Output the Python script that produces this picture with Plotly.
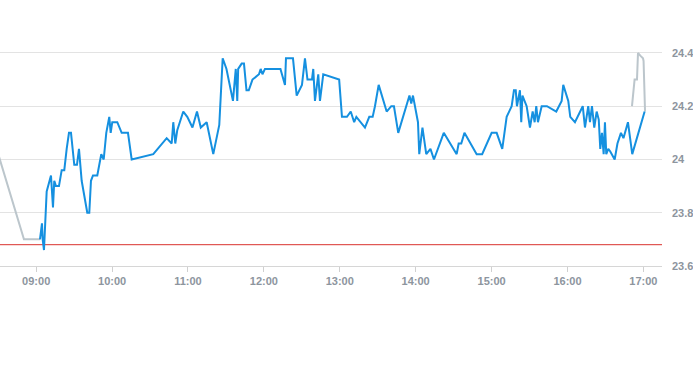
import plotly.graph_objects as go

DAY = "2024-01-02"

blue_times = ["09:03:00","09:04:35","09:05:08","09:06:10","09:08:18","09:10:22","09:11:42","09:13:17","09:14:18","09:15:39",
"09:18:01","09:20:10","09:22:13","09:24:07","09:25:56","09:27:31","09:28:51","09:30:07","09:32:15","09:33:50",
"09:35:58","09:40:24","09:41:59","09:43:19","09:44:54","09:48:18","09:49:53","09:51:28","09:53:22","09:55:25",
"09:57:47","09:58:54","10:00:09","10:04:07","10:07:35","10:12:34","10:15:30","10:32:34","10:43:10","10:47:07",
"10:48:23","10:49:58","10:51:32","10:56:17","10:59:27","11:03:33","11:07:07","11:10:07","11:14:47","11:20:00",
"11:24:45","11:27:26","11:30:26","11:35:34","11:37:47","11:38:58","11:39:41","11:42:27","11:44:16","11:46:15",
"11:48:04","11:50:59","11:56:08","11:57:28","11:58:53","12:00:52","12:13:07","12:16:41","12:17:28","12:23:00",
"12:25:56","12:30:07","12:32:29","12:34:28","12:38:01","12:39:03","12:40:23","12:43:00","12:44:21","12:46:57",
"12:59:31","13:01:44","13:05:41","13:08:41","13:11:23","13:13:07","13:19:55","13:23:19","13:26:00","13:27:49",
"13:30:45","13:37:04","13:40:42","13:42:50","13:46:14","13:55:05","13:56:31","13:57:52","14:01:49","14:02:50",
"14:05:22","14:08:22","14:11:41","14:14:28","14:22:13","14:32:25","14:33:59","14:36:03","14:38:34","14:48:13",
"14:52:34","15:00:04","15:04:02","15:08:27","15:11:56","15:15:53","15:17:42","15:19:07","15:20:04","15:22:26",
"15:23:28","15:24:25","15:27:44","15:30:21","15:32:29","15:34:04","15:35:20","15:36:40","15:39:36","15:43:47",
"15:51:08","15:55:25","15:56:40","16:00:38","16:02:13","16:05:55","16:12:05","16:13:50","16:16:26","16:17:47",
"16:19:22","16:21:11","16:23:05","16:24:44","16:25:56","16:27:16","16:28:37","16:29:38","16:30:40","16:32:15",
"16:33:50","16:37:19","16:39:31","16:42:17","16:44:16","16:47:49","16:51:13","17:01:00"]

blue_prices = [23.70,23.76,23.70,23.66,23.88,23.92,23.94,23.82,23.92,23.90,
23.90,23.96,23.96,24.04,24.10,24.10,24.04,23.98,23.98,24.04,
23.92,23.80,23.80,23.92,23.94,23.94,23.98,24.02,24.00,24.10,
24.16,24.10,24.14,24.14,24.10,24.10,24.00,24.02,24.08,24.06,
24.14,24.06,24.11,24.18,24.16,24.12,24.18,24.12,24.14,24.02,
24.13,24.38,24.34,24.22,24.34,24.22,24.34,24.36,24.36,24.26,
24.26,24.30,24.32,24.34,24.32,24.34,24.34,24.28,24.38,24.38,
24.24,24.28,24.38,24.30,24.30,24.34,24.22,24.32,24.22,24.32,
24.30,24.16,24.16,24.18,24.14,24.16,24.12,24.16,24.16,24.20,
24.28,24.18,24.20,24.20,24.10,24.24,24.21,24.24,24.14,24.02,
24.12,24.02,24.04,24.00,24.10,24.02,24.06,24.06,24.10,24.02,
24.02,24.10,24.10,24.04,24.16,24.20,24.26,24.26,24.20,24.26,
24.14,24.24,24.20,24.12,24.18,24.14,24.20,24.14,24.20,24.20,
24.18,24.22,24.28,24.22,24.16,24.14,24.20,24.12,24.20,24.14,
24.20,24.12,24.18,24.15,24.04,24.10,24.02,24.14,24.02,24.04,
24.03,24.00,24.06,24.10,24.08,24.14,24.02,24.18]

pre_times = ["08:30:00", "08:50:20", "09:03:00"]
pre_prices = [24.02, 23.70, 23.70]

post_times = ["16:51:00", "16:53:04", "16:54:58", "16:55:45", "16:57:34", "16:59:42", "17:00:10", "17:01:20"]
post_prices = [24.20, 24.30, 24.30, 24.40, 24.39, 24.38, 24.37, 24.18]

prev_close = 23.68

x_range = ["08:31:24", "17:14:44"]
y_ticks = [23.6, 23.8, 24.0, 24.2, 24.4]


def ts(lst):
    return [f"{DAY} {t}" for t in lst]


BLUE = "#1590e0"
GRAY = "#bcc6cc"
LABEL = "#8d959e"
TICKFONT = dict(family="Liberation Sans, Arial, sans-serif", size=11, color=LABEL, weight="bold")

fig = go.Figure()
fig.add_trace(go.Scatter(x=ts(pre_times), y=pre_prices, mode="lines",
                         line=dict(color=GRAY, width=2), hoverinfo="skip"))
fig.add_trace(go.Scatter(x=ts(post_times), y=post_prices, mode="lines",
                         line=dict(color=GRAY, width=2), hoverinfo="skip"))
fig.add_trace(go.Scatter(x=ts(blue_times), y=blue_prices, mode="lines",
                         line=dict(color=BLUE, width=2)))
fig.add_hline(y=prev_close, line=dict(color="#d9322e", width=1), layer="below")

fig.update_layout(
    width=693, height=365,
    margin=dict(l=0, r=31, t=21, b=99),
    paper_bgcolor="white", plot_bgcolor="white",
    showlegend=False,
    font=dict(family="Liberation Sans, Arial, sans-serif", size=11, color=LABEL),
    xaxis=dict(
        type="date",
        range=ts(x_range),
        tickformat="%H:%M",
        dtick=3600000,
        tick0=f"{DAY} 09:00:00",
        showgrid=False,
        showline=True, linecolor="#d6d6d6", linewidth=1,
        ticks="outside", ticklen=5, tickcolor="#d0d0d0",
        tickfont=TICKFONT,
        zeroline=False,
    ),
    yaxis=dict(
        side="right",
        range=[23.6, 24.52],
        tickvals=y_ticks,
        ticktext=[f"{v:g}" for v in y_ticks],
        showgrid=True, gridcolor="#e3e3e3", gridwidth=1,
        zeroline=False, showline=False,
        ticks="", ticklabelstandoff=9,
        tickfont=TICKFONT,
    ),
)

fig.write_html(
    "out.html",
    config={"displayModeBar": False},
    post_script="document.body.style.margin='0';document.body.style.overflow='hidden';",
)
